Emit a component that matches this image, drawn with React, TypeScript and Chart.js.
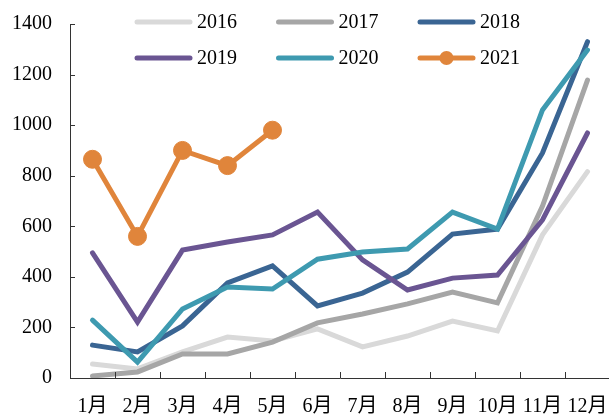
import React, { useEffect, useRef } from "react";
import { Chart, registerables } from "chart.js";

Chart.register(...registerables);

const months = ["1月", "2月", "3月", "4月", "5月", "6月", "7月", "8月", "9月", "10月", "11月", "12月"];
const yTickValues = [0, 200, 400, 600, 800, 1000, 1200, 1400];
const seriesNames = ["2016", "2017", "2018", "2019", "2020", "2021"];
const s2016 = [55, 36, 103, 162, 146, 194, 123, 166, 225, 186, 566, 816];
const s2017 = [8, 24, 95, 95, 142, 218, 253, 293, 340, 297, 680, 1178];
const s2018 = [130, 103, 206, 376, 443, 285, 336, 419, 569, 589, 890, 1330];
const s2019 = [495, 221, 506, 538, 566, 656, 467, 348, 395, 407, 625, 969];
const s2020 = [229, 63, 273, 360, 352, 470, 498, 510, 656, 589, 1060, 1297];
const s2021 = [865, 560, 900, 840, 980];
const colors = ["#d9d9d9", "#a6a6a6", "#3a6593", "#6a5592", "#3e9ab0", "#e0853b"];

const FONT = "'Liberation Serif', 'Times New Roman', 'Noto Sans CJK SC', serif";

const legendPlugin = {
  id: "customLegend",
  afterDraw(chart: any) {
    const ctx = chart.ctx;
    ctx.save();
    chart.data.datasets.forEach((ds: any, i: number) => {
      const col = i % 3;
      const row = Math.floor(i / 3);
      const x0 = 137 + col * 141.5;
      const y = 22 + row * 36;
      ctx.strokeStyle = ds.borderColor;
      ctx.lineWidth = 5;
      ctx.lineCap = "round";
      ctx.beginPath();
      ctx.moveTo(x0, y);
      ctx.lineTo(x0 + 53, y);
      ctx.stroke();
      if (ds.pointRadius > 0) {
        ctx.fillStyle = ds.borderColor;
        ctx.beginPath();
        ctx.arc(x0 + 26.5, y, 7, 0, Math.PI * 2);
        ctx.fill();
      }
      ctx.fillStyle = "#000";
      ctx.font = "20px " + FONT;
      ctx.textAlign = "left";
      ctx.textBaseline = "middle";
      ctx.fillText(ds.label, x0 + 60, y + 1);
    });
    ctx.restore();
  },
};

const tickPlugin = {
  id: "inwardTicks",
  afterDraw(chart: any) {
    const ctx = chart.ctx;
    const area = chart.chartArea;
    const xs = chart.scales.x;
    const ys = chart.scales.y;
    ctx.save();
    ctx.strokeStyle = "#333";
    ctx.lineWidth = 1;
    ctx.beginPath();
    yTickValues.forEach((v) => {
      const y = Math.round(ys.getPixelForValue(v)) + 0.5;
      ctx.moveTo(area.left, y);
      ctx.lineTo(area.left + 5, y);
    });
    const step = xs.getPixelForValue(1) - xs.getPixelForValue(0);
    for (let i = 1; i <= months.length; i++) {
      const x = Math.round(xs.getPixelForValue(i) - step / 2) + 0.5;
      ctx.moveTo(x, area.bottom);
      ctx.lineTo(x, area.bottom - 6);
    }
    ctx.stroke();
    ctx.restore();
  },
};

export default function App() {
  const ref = useRef<HTMLCanvasElement | null>(null);
  useEffect(() => {
    if (!ref.current) return;
    const all = [s2016, s2017, s2018, s2019, s2020, s2021];
    const datasets = all.map((d, i) => ({
      label: seriesNames[i],
      data: d,
      borderColor: colors[i],
      backgroundColor: colors[i],
      borderWidth: 5,
      borderCapStyle: "round" as const,
      borderJoinStyle: "miter" as const,
      pointRadius: i === 5 ? 9 : 0,
      pointHoverRadius: i === 5 ? 9 : 0,
      pointBorderWidth: 1,
      pointBackgroundColor: colors[i],
      pointBorderColor: colors[i],
      tension: 0,
      fill: false,
      order: 6 - i,
    }));
    const chart = new Chart(ref.current, {
      type: "line",
      data: { labels: months, datasets },
      options: {
        animation: false,
        responsive: true,
        maintainAspectRatio: false,
        layout: { padding: { top: 24, right: 7, left: 0, bottom: 0 } },
        plugins: { legend: { display: false }, tooltip: { enabled: false } },
        scales: {
          x: {
            type: "category",
            offset: true,
            grid: { display: false, drawTicks: false, offset: true },
            border: { display: true, color: "#333", width: 1 },
            ticks: {
              font: { size: 20, family: FONT },
              color: "#000",
              padding: 17,
              maxRotation: 0,
              autoSkip: false,
            },
            afterFit: (s: any) => {
              s.height = 37;
              s.paddingLeft = 0;
              s.paddingRight = 0;
            },
          },
          y: {
            min: 0,
            max: 1400,
            grid: { display: false, drawTicks: false },
            border: { display: true, color: "#333", width: 1 },
            ticks: {
              stepSize: 200,
              font: { size: 20, family: FONT },
              color: "#000",
              padding: 18,
              callback: (v: any) => String(v),
            },
            afterFit: (s: any) => {
              s.width = 70;
              s.paddingTop = 0;
              s.paddingBottom = 0;
            },
          },
        },
      },
      plugins: [legendPlugin, tickPlugin],
    });
    return () => chart.destroy();
  }, []);
  return (
    <div style={{ position: "fixed", left: 0, top: 0, width: 609, height: 415, overflow: "hidden", background: "#fff" }}>
      <div style={{ position: "relative", width: 620, height: 415 }}>
        <canvas ref={ref} />
      </div>
    </div>
  );
}
